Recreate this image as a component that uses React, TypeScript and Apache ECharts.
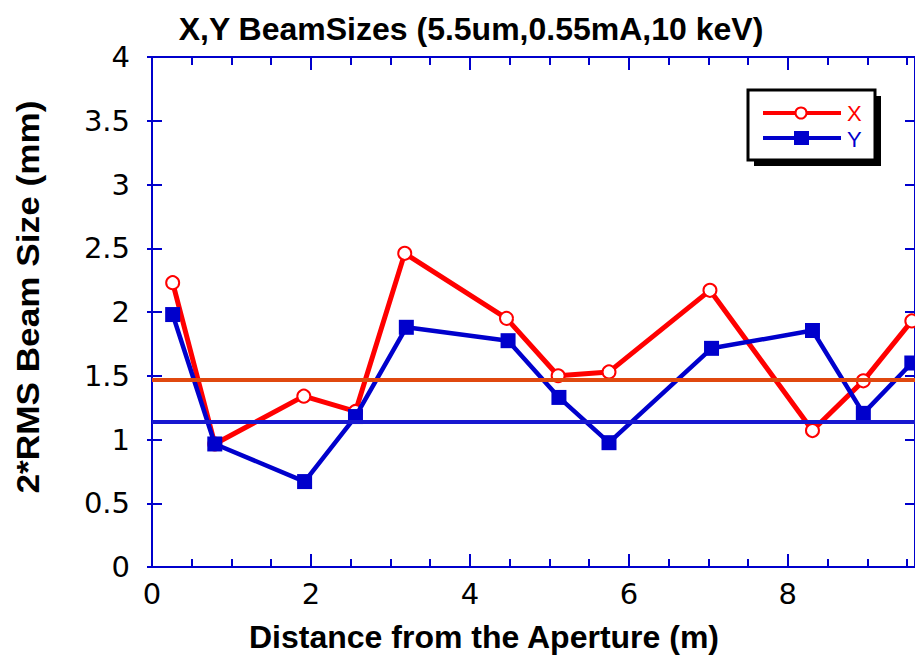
import React, { useEffect, useRef } from "react";
import * as echarts from "echarts";

// Beam size measurements along the beamline: [distance (m), 2*RMS size (mm)]
const xBeam: [number, number][] = [
  [0.26, 2.23], [0.79, 0.965], [1.91, 1.34], [2.56, 1.22], [3.18, 2.46], [4.46, 1.95],
  [5.11, 1.5], [5.75, 1.53], [7.02, 2.17], [8.31, 1.07], [8.95, 1.46], [9.56, 1.93],
];
const yBeam: [number, number][] = [
  [0.26, 1.98], [0.79, 0.965], [1.92, 0.67], [2.56, 1.18], [3.2, 1.88], [4.48, 1.775],
  [5.12, 1.33], [5.75, 0.975], [7.04, 1.715], [8.31, 1.855], [8.95, 1.205], [9.56, 1.6],
];
// Horizontal reference levels (mm)
const xLevel = 1.467;
const yLevel = 1.135;

const seriesNames = ["X", "Y"];
const titleText = "X,Y BeamSizes (5.5um,0.55mA,10 keV)";
const xAxisName = "Distance from the Aperture (m)";
const yAxisName = "2*RMS Beam Size (mm)";

const X_MIN = 0;
const X_MAX = 9.6;
const X_STEP = 2;
const Y_MIN = 0;
const Y_MAX = 4;
const Y_STEP = 0.5;

const AXIS_BLUE = "#0000CC";
const RED = "#FF0000";
const BLUE = "#0000CC";
const FONT = "Liberation Sans, Arial, sans-serif";
const TICK_FONT = "DejaVu Sans, Liberation Sans, sans-serif";

const GRID = { left: 152, top: 57, width: 768, height: 510 };

export default function App() {
  const ref = useRef<HTMLDivElement>(null);

  useEffect(() => {
    if (!ref.current) return;
    const chart = echarts.init(ref.current, undefined, { renderer: "svg" });

    const line = { show: true, onZero: false, lineStyle: { color: AXIS_BLUE, width: 2 } };
    const noLine = { show: false, onZero: false };
    const tickStyle = { color: AXIS_BLUE, width: 2 };

    const xBase = { type: "value", min: X_MIN, max: X_MAX, interval: X_STEP, splitLine: { show: false } };
    const yBase = { type: "value", min: Y_MIN, max: Y_MAX, interval: Y_STEP, splitLine: { show: false } };

    // Tick-only axes are placed on the opposite frame edge (via offset) so their
    // outward ticks point into the plotting area.
    const xTicks = {
      axisLine: noLine,
      axisLabel: { show: false },
      axisTick: { show: true, length: 13, lineStyle: tickStyle },
      minorTick: { show: true, splitNumber: 4, length: 8, lineStyle: tickStyle },
    };
    const yTicks = {
      axisLine: noLine,
      axisLabel: { show: false },
      axisTick: { show: true, length: 15, lineStyle: tickStyle },
    };

    chart.setOption({
      animation: false,
      backgroundColor: "#ffffff",
      title: {
        text: titleText,
        left: 466,
        textAlign: "center",
        top: 8,
        textStyle: { fontFamily: FONT, fontWeight: "bold", fontSize: 32, color: "#000" },
      },
      grid: GRID,
      xAxis: [
        {
          ...xBase,
          position: "bottom",
          axisLine: line,
          axisTick: { show: false },
          axisLabel: { color: "#000", fontFamily: TICK_FONT, fontSize: 29, margin: 12, showMaxLabel: false },
        },
        { ...xBase, position: "top", axisLine: line, axisTick: { show: false }, axisLabel: { show: false } },
        { ...xBase, position: "top", offset: -GRID.height, ...xTicks },
        { ...xBase, position: "bottom", offset: -GRID.height, ...xTicks },
      ],
      yAxis: [
        {
          ...yBase,
          position: "left",
          axisLine: line,
          axisTick: { show: false },
          axisLabel: { color: "#000", fontFamily: TICK_FONT, fontSize: 29, margin: 22 },
        },
        { ...yBase, position: "right", axisLine: line, axisTick: { show: false }, axisLabel: { show: false } },
        { ...yBase, position: "right", offset: -GRID.width, ...yTicks },
        { ...yBase, position: "left", offset: -GRID.width, ...yTicks },
      ],
      series: [
        {
          name: seriesNames[0],
          type: "line",
          data: xBeam,
          symbol: "circle",
          symbolSize: 13,
          lineStyle: { color: RED, width: 5 },
          itemStyle: { color: "#ffffff", borderColor: RED, borderWidth: 2 },
          z: 2,
        },
        {
          name: seriesNames[1],
          type: "line",
          data: yBeam,
          symbol: "rect",
          symbolSize: 15,
          lineStyle: { color: BLUE, width: 4.5 },
          itemStyle: { color: BLUE },
          z: 3,
        },
        {
          name: "levels",
          type: "line",
          data: [],
          z: 4,
          markLine: {
            silent: true,
            symbol: "none",
            label: { show: false },
            data: [
              { yAxis: xLevel, lineStyle: { color: "#E0480F", width: 4, type: "solid" } },
              { yAxis: yLevel, lineStyle: { color: "#1818D0", width: 4, type: "solid" } },
            ],
          },
        },
      ],
      graphic: [
        // axis titles
        {
          type: "text",
          x: 484,
          y: 637,
          style: {
            text: xAxisName,
            fill: "#000",
            font: `bold 32px ${FONT}`,
            textAlign: "center",
            textVerticalAlign: "middle",
          },
          z: 5,
        },
        {
          type: "text",
          x: 28,
          y: 297,
          rotation: Math.PI / 2,
          scaleX: 1.1,
          style: {
            text: yAxisName,
            fill: "#000",
            font: `bold 32px ${FONT}`,
            textAlign: "center",
            textVerticalAlign: "middle",
          },
          z: 5,
        },
        // legend frame with drop shadow
        { type: "rect", shape: { x: 754, y: 96, width: 127, height: 70 }, style: { fill: "#000" }, z: 10 },
        {
          type: "rect",
          shape: { x: 748, y: 90, width: 127, height: 70 },
          style: { fill: "#fff", stroke: "#000", lineWidth: 3 },
          z: 11,
        },
        { type: "line", shape: { x1: 763, y1: 113, x2: 841, y2: 113 }, style: { stroke: RED, lineWidth: 4 }, z: 12 },
        { type: "circle", shape: { cx: 801, cy: 113, r: 5.5 }, style: { fill: "#fff", stroke: RED, lineWidth: 2 }, z: 13 },
        { type: "line", shape: { x1: 763, y1: 138, x2: 841, y2: 138 }, style: { stroke: BLUE, lineWidth: 4 }, z: 12 },
        { type: "rect", shape: { x: 794, y: 131, width: 15, height: 14 }, style: { fill: BLUE }, z: 13 },
        {
          type: "text",
          x: 847,
          y: 113,
          style: { text: seriesNames[0], fill: RED, font: `22px ${FONT}`, textVerticalAlign: "middle" },
          z: 13,
        },
        {
          type: "text",
          x: 847,
          y: 139,
          style: { text: seriesNames[1], fill: BLUE, font: `22px ${FONT}`, textVerticalAlign: "middle" },
          z: 13,
        },
      ],
    });

    return () => chart.dispose();
  }, []);

  return (
    <div
      ref={ref}
      style={{ position: "fixed", left: 0, top: 0, width: 915, height: 657, background: "#fff" }}
    />
  );
}
